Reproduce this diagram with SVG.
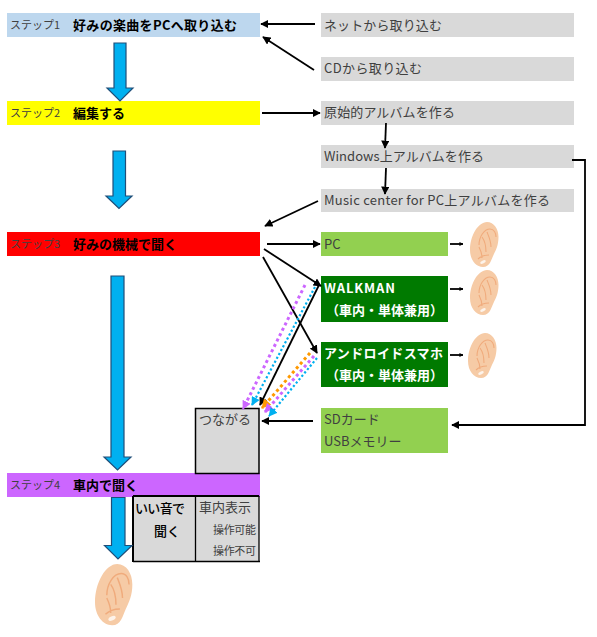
<svg xmlns="http://www.w3.org/2000/svg" width="597" height="637" viewBox="0 0 597 637">
<style>
text{font-family:"Noto Sans CJK JP","Noto Sans",sans-serif;fill:#404040;font-size:13px}
.s{font-size:11px;fill:#404040}
.h{font-size:13px;font-weight:700;fill:#000}
.g{fill:#d9d9d9}
.lg{fill:#92d050}
.dg{fill:#007a00}
.w{fill:#fff;font-weight:700;font-size:13px}
.b{fill:#000;font-weight:500}
.box{fill:#d9d9d9;stroke:#000;stroke-width:1.5}
.c{fill:none;stroke:#000;stroke-width:1.8}
.big{fill:#00b0f0;stroke:#1f4e79;stroke-width:1.2}
.d{fill:none;stroke-width:3;stroke-dasharray:3 3}
.e{fill:none;stroke-width:2.2;stroke-dasharray:2.2 2.2}
</style>
<defs>
<marker id="a" viewBox="0 0 10 10" refX="9" refY="5" markerWidth="4.6" markerHeight="4.6" orient="auto"><path d="M0 0L10 5L0 10Z" fill="#000"/></marker>
<marker id="s" viewBox="0 0 10 10" refX="9" refY="5" markerWidth="2.2" markerHeight="2.2" orient="auto"><path d="M0 0L10 5L0 10Z" fill="#000"/></marker>
<marker id="mp" viewBox="0 0 10 10" refX="9" refY="5" markerWidth="3" markerHeight="3" orient="auto"><path d="M0 0L10 5L0 10Z" fill="#cc66ff"/></marker>
<marker id="mb" viewBox="0 0 10 10" refX="9" refY="5" markerWidth="4" markerHeight="4" orient="auto"><path d="M0 0L10 5L0 10Z" fill="#00b0f0"/></marker>
<marker id="mo" viewBox="0 0 10 10" refX="9" refY="5" markerWidth="3.2" markerHeight="3.2" orient="auto"><path d="M0 0L10 5L0 10Z" fill="#ff9900"/></marker>
<g id="ear">
<path d="M17 0C24 0 28.500 7 28.500 15C28.500 23 26 28 23.500 33C21 38 20 45 13 45C6 45 0 38 0 28C0 14 8 0 17 0Z" fill="#f6cba6"/>
<path d="M9 23C9 15 14 7 20 7C24 7 26 11 26 15M12 15C15 19 16 24 16 30M17 10C19 15 21 19 21 25M9 25C11 29 12 32 12 36M8 37C11 34 15 33 19 33" fill="none" stroke="#f0ab7c" stroke-width="1.1"/>
<ellipse cx="13" cy="40" rx="3" ry="1.5" fill="#fdf3ea" transform="rotate(-25 13 40)"/>
</g>
</defs>

<g id="step1"><rect x="7" y="13" width="253" height="24" fill="#bdd7ee"/><text class="s" x="10" y="29">ステップ1</text><text class="h" x="73" y="30" textLength="164">好みの楽曲をPCへ取り込む</text></g>
<g id="step2"><rect x="7" y="101" width="253" height="24" fill="#ffff00"/><text class="s" x="10" y="117">ステップ2</text><text class="h" x="73" y="118">編集する</text></g>
<g id="step3"><rect x="7" y="232" width="253" height="24" fill="#ff0000"/><text class="s" x="10" y="248">ステップ3</text><text class="h" x="73" y="249" textLength="104">好みの機械で聞く</text></g>
<g id="step4"><rect x="7" y="473" width="253" height="24" fill="#cc66ff"/><text class="s" x="10" y="489">ステップ4</text><text class="h" x="73" y="490">車内で聞く</text></g>

<g id="net"><rect class="g" x="321" y="13" width="253" height="24"/><text x="324" y="30" textLength="118">ネットから取り込む</text></g>
<g id="cd"><rect class="g" x="321" y="57" width="253" height="24"/><text x="324" y="73" textLength="98">CDから取り込む</text></g>
<g id="genshi"><rect class="g" x="321" y="101" width="253" height="24"/><text x="324" y="117" textLength="131">原始的アルバムを作る</text></g>
<g id="windows"><rect class="g" x="321" y="145" width="253" height="23"/><text x="324" y="161" textLength="160">Windows上アルバムを作る</text></g>
<g id="music"><rect class="g" x="321" y="189" width="253" height="23"/><text x="324" y="205" textLength="226">Music center for PC上アルバムを作る</text></g>

<g id="pc"><rect class="lg" x="321" y="232" width="127" height="24"/><text x="324" y="249">PC</text></g>
<g id="walkman"><rect class="dg" x="321" y="276" width="127" height="46"/><text class="w" x="324" y="293" textLength="71">WALKMAN</text><text class="w" x="326" y="315">（車内・単体兼用）</text></g>
<g id="android"><rect class="dg" x="321" y="342" width="127" height="45"/><text class="w" x="324" y="358" textLength="119">アンドロイドスマホ</text><text class="w" x="326" y="380">（車内・単体兼用）</text></g>
<g id="sd"><rect class="lg" x="321" y="408" width="127" height="45"/><text x="324" y="424">SDカード</text><text x="324" y="446">USBメモリー</text></g>

<g id="tsunagaru"><rect class="box" x="195.500" y="408.500" width="63.500" height="65"/><text x="199" y="424">つながる</text></g>
<g id="table">
<rect x="133" y="496" width="126" height="65" fill="#d9d9d9"/>
<path d="M133 496H259" fill="none" stroke="#000" stroke-width="2"/>
<path d="M133 496V562" fill="none" stroke="#000" stroke-width="2"/>
<path d="M195.500 496V562M259 496V562M133 561.500H260" fill="none" stroke="#000" stroke-width="1.300"/>
<text class="b" x="135" y="513" textLength="50">いい音で</text><text class="b" x="154" y="536">聞く</text>
<text x="199" y="512" textLength="52">車内表示</text><text x="213" y="534" style="font-size:11px" textLength="43">操作可能</text><text x="213" y="555" style="font-size:11px" textLength="43">操作不可</text>
</g>

<g id="ears">
<use href="#ear" x="470" y="222"/>
<use href="#ear" x="470" y="270"/>
<use href="#ear" x="468" y="333"/>
<use href="#ear" transform="translate(95 564) scale(1.31 1.36)"/>
</g>

<g id="bigarrows">
<path class="big" d="M114 43H126V88H133L120 101L107 88H114Z"/>
<path class="big" d="M113 151H125.500V196H132L119 208.500L106 196H113Z"/>
<path class="big" d="M111 276H124V457H131L117.500 470L104 457H111Z"/>
<path class="big" d="M111.500 497.500H125V545.500H132L118 559L104.500 545.500H111.500Z"/>
</g>

<g id="connectors">
<path class="c" marker-end="url(#a)" d="M315 24H261"/>
<path class="c" marker-end="url(#a)" d="M314 70L263 37"/>
<path class="c" marker-end="url(#a)" d="M262 113H320"/>
<path class="c" marker-end="url(#a)" d="M386 123L385 148"/>
<path class="c" marker-end="url(#a)" d="M386 168L385 194"/>
<path class="c" marker-end="url(#a)" d="M318 201L265 226"/>
<path class="c" marker-end="url(#a)" d="M572 160H585V425H452"/>
<path class="c" marker-end="url(#a)" d="M267 244H320"/>
<path class="c" marker-end="url(#a)" d="M264 249L321 286"/>
<path class="c" marker-end="url(#a)" d="M263 257L317 353"/>
<path class="c" marker-end="url(#a)" d="M319 285L260 405"/>
<path class="c" marker-end="url(#a)" d="M313 421H262"/>
<path class="c" marker-end="url(#s)" d="M450 244H463"/>
<path class="c" marker-end="url(#s)" d="M450 289H463"/>
<path class="c" marker-end="url(#s)" d="M450 355H463"/>
<path class="d" stroke="#cc66ff" marker-end="url(#mp)" d="M305 285L243 409"/>
<path class="e" stroke="#00b0f0" marker-end="url(#mb)" d="M315 287L252 405"/>
<path class="d" stroke="#ff9900" marker-end="url(#mo)" d="M310 353L262 408"/>
<path class="d" stroke="#cc66ff" marker-end="url(#mp)" d="M314 356L265 412"/>
<path class="e" stroke="#00b0f0" marker-end="url(#mb)" d="M317 358L269 416"/>
</g>
</svg>
